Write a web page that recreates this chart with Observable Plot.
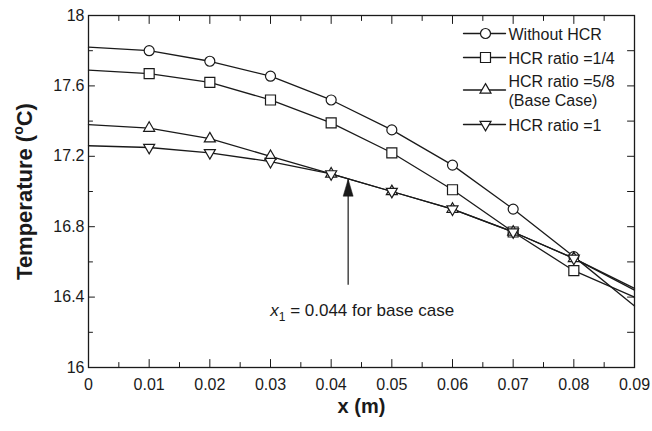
<!DOCTYPE html>
<html><head><meta charset="utf-8">
<script src="https://cdn.jsdelivr.net/npm/d3@7"></script>
<script src="https://cdn.jsdelivr.net/npm/@observablehq/plot@0.6"></script>
<style>
body{margin:0;background:#fff;}
#chart svg{font-family:"Liberation Sans",Arial,sans-serif;}
</style>
</head><body><div id="chart"></div>
<script>
// ---- data ----
const xs = [0, 0.01, 0.02, 0.03, 0.04, 0.05, 0.06, 0.07, 0.08, 0.09];
const withoutHCR = [17.82, 17.80, 17.74, 17.655, 17.52, 17.35, 17.15, 16.90, 16.63, 16.35];
const hcr14      = [17.69, 17.67, 17.62, 17.52, 17.39, 17.22, 17.01, 16.77, 16.55, 16.40];
const hcr58      = [17.38, 17.36, 17.30, 17.20, 17.10, 17.00, 16.90, 16.77, 16.62, 16.45];
const hcr1       = [17.26, 17.25, 17.22, 17.17, 17.10, 17.00, 16.90, 16.77, 16.62, 16.44];
const seriesNames = ["Without HCR", "HCR ratio =1/4", "HCR ratio =5/8\n(Base Case)", "HCR ratio =1"];
const xTickLabels = ["0", "0.01", "0.02", "0.03", "0.04", "0.05", "0.06", "0.07", "0.08", "0.09"];
const xMinorTicks = [0.005, 0.015, 0.025, 0.035, 0.045, 0.055, 0.065, 0.075, 0.085];
const yTicks = [16, 16.4, 16.8, 17.2, 17.6, 18];
const yTickLabels = ["16", "16.4", "16.8", "17.2", "17.6", "18"];
const yMinorTicks = [16.2, 16.6, 17.0, 17.4, 17.8];
const arrowX = 0.0428, arrowTop = 17.07, arrowBottom = 16.47;
const annotation = "x1 = 0.044 for base case";
const xTitle = "x (m)";
const yTitle = "Temperature (oC)";

// ---- build table ----
const allSeries = [withoutHCR, hcr14, hcr58, hcr1];
const rows = [];
allSeries.forEach((vals, s) => vals.forEach((v, i) => rows.push({s, x: xs[i], y: v, i})));
const markerRows = rows.filter(d => d.i >= 1 && d.i <= 8);

// ---- symbols ----
const circleSym = {draw(c){ c.moveTo(5,0); c.arc(0,0,5,0,2*Math.PI); c.closePath(); }};
const squareSym = {draw(c){ c.rect(-5,-5,10,10); }};
const triUpSym = {draw(c){ const s=11, h=s*0.866; c.moveTo(0,-h*2/3); c.lineTo(s/2,h/3); c.lineTo(-s/2,h/3); c.closePath(); }};
const triDownSym = {draw(c){ const s=11, h=s*0.866; c.moveTo(0,h*2/3); c.lineTo(s/2,-h/3); c.lineTo(-s/2,-h/3); c.closePath(); }};
const symbols = [circleSym, squareSym, triUpSym, triDownSym];
const headSym = {draw(c){ c.moveTo(0,0); c.lineTo(5,17); c.lineTo(-5,17); c.closePath(); }};
const lineShape = {draw(c, l){ c.moveTo(0,0); c.lineTo(0,-l); }};

const ink = "#1a1a1a";
const marks = [];

// ticks (inward)
const tick = (data, opt, len) => Plot.vector(data, {...opt, anchor:"start", length:len, shape:lineShape, stroke:ink, strokeWidth:1});
marks.push(tick(xs, {x:d=>d, frameAnchor:"bottom", rotate:0}, 8));
marks.push(tick(xMinorTicks, {x:d=>d, frameAnchor:"bottom", rotate:0}, 5));
marks.push(tick(xs, {x:d=>d, frameAnchor:"top", rotate:180}, 8));
marks.push(tick(xMinorTicks, {x:d=>d, frameAnchor:"top", rotate:180}, 5));
marks.push(tick(yTicks, {y:d=>d, frameAnchor:"left", rotate:90}, 6));
marks.push(tick(yMinorTicks, {y:d=>d, frameAnchor:"left", rotate:90}, 4));
marks.push(tick(yTicks, {y:d=>d, frameAnchor:"right", rotate:270}, 7));
marks.push(tick(yMinorTicks, {y:d=>d, frameAnchor:"right", rotate:270}, 7));

// tick labels
marks.push(Plot.axisX(xs, {tickSize:0, tickPadding:11, tickFormat:(d,i)=>xTickLabels[i], fontSize:16, fill:ink, label:null}));
marks.push(Plot.axisY(yTicks, {tickSize:0, tickPadding:4, tickFormat:(d,i)=>yTickLabels[i], fontSize:16, fill:ink, label:null}));

// lines and markers
allSeries.forEach((_, s) => {
  marks.push(Plot.line(rows.filter(d=>d.s===s), {x:"x", y:"y", stroke:ink, strokeWidth:1.3}));
});
allSeries.forEach((_, s) => {
  marks.push(Plot.dot(markerRows.filter(d=>d.s===s), {x:"x", y:"y", symbol:symbols[s], r:5, fill:"white", stroke:ink, strokeWidth:1.2}));
});

// arrow annotation
marks.push(Plot.link([0], {x1:()=>arrowX, x2:()=>arrowX, y1:()=>arrowBottom, y2:()=>arrowTop, stroke:ink, strokeWidth:1.2}));
marks.push(Plot.dot([0], {x:()=>arrowX, y:()=>arrowTop, symbol:headSym, r:5, fill:ink, stroke:ink, strokeWidth:0.5}));
marks.push(Plot.text([annotation], {x:()=>arrowX, y:()=>arrowBottom, text:d=>d, dx:14, dy:26, fontSize:17, fill:ink, textAnchor:"middle"}));

// legend
const rowDy = [18, 42, 74.5, 109];
seriesNames.forEach((name, s) => {
  marks.push(Plot.vector([0], {frameAnchor:"top-left", dx:375, dy:rowDy[s], rotate:90, length:42, anchor:"start", shape:lineShape, stroke:ink, strokeWidth:1.3}));
  marks.push(Plot.dot([0], {frameAnchor:"top-left", dx:397, dy:rowDy[s], symbol:symbols[s], r:5, fill:"white", stroke:ink, strokeWidth:1.2}));
  marks.push(Plot.text([name], {frameAnchor:"top-left", dx:420, dy:rowDy[s], text:d=>d, textAnchor:"start", lineAnchor:"middle", lineHeight:1.19, fontSize:16, fill:ink}));
});

// axis titles
marks.push(Plot.text([xTitle], {frameAnchor:"bottom", dy:45, text:d=>d, fontSize:20, fontWeight:"bold", fill:ink, textAnchor:"middle"}));
marks.push(Plot.text([yTitle], {frameAnchor:"left", dx:-64, rotate:-90, text:d=>d, fontSize:22, fontWeight:"bold", fill:ink, textAnchor:"middle"}));

marks.push(Plot.frame({stroke:ink, strokeWidth:1.3}));

const chart = Plot.plot({
  width:652, height:431,
  marginLeft:88, marginRight:18, marginTop:15, marginBottom:64,
  x:{domain:[0,0.09], axis:null},
  y:{domain:[16,18], axis:null},
  style:{background:"#fff", color:ink},
  marks
});
document.getElementById("chart").appendChild(chart);

// rich text: italic x with subscript, superscript degree
chart.querySelectorAll("text").forEach(t => {
  if (t.textContent === annotation) {
    t.innerHTML = '<tspan font-style="italic">x</tspan><tspan dy="5" font-size="12">1</tspan><tspan dy="-5"> = 0.044 for base case</tspan>';
  } else if (t.textContent === yTitle) {
    t.innerHTML = 'Temperature (<tspan dy="-9" font-size="14">o</tspan><tspan dy="9">C)</tspan>';
  }
});
</script>
</body></html>
